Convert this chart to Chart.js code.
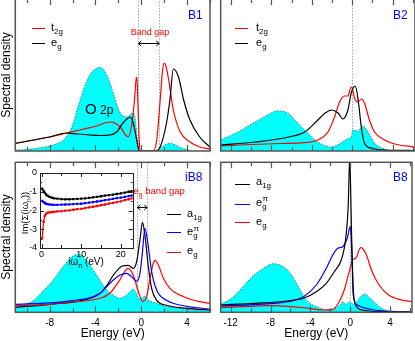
<!DOCTYPE html>
<html><head><meta charset="utf-8">
<script src="https://cdn.jsdelivr.net/npm/chart.js@4/dist/chart.umd.min.js"></script>
<style>
html,body{margin:0;padding:0;background:#fff;}
#wrap{position:relative;width:415px;height:341px;overflow:hidden;font-family:'Liberation Sans',Arial,Helvetica,sans-serif;color:#000;}
canvas{position:absolute;left:0;top:0;}
#cTL,#cTR{top:-1px;}
.t{position:absolute;white-space:nowrap;line-height:1;}
.c{transform:translate(-50%,-50%);}
.l{transform:translateY(-50%);}
.rot{transform:translate(-50%,-50%) rotate(-90deg);}
.sw{position:absolute;height:0;border-top:1.2px solid;}
sub{font-size:0.72em;vertical-align:-0.4em;line-height:0;}
sup{font-size:0.72em;vertical-align:0.55em;line-height:0;}
.blue{color:#0000ff;font-size:12px;}
.red{color:#ff0000;}
</style></head>
<body><div id="wrap">
<canvas id="cTL" width="415" height="341"></canvas>
<canvas id="cTR" width="415" height="341"></canvas>
<canvas id="cBL" width="415" height="341"></canvas>
<canvas id="cBR" width="415" height="341"></canvas>
<canvas id="cIn" width="415" height="341"></canvas>

<div class="t rot" style="left:6px;top:75px;font-size:12px">Spectral density</div>
<div class="t rot" style="left:6px;top:237px;font-size:12px">Spectral density</div>

<div class="sw" style="left:32px;top:27.5px;width:13px;border-color:#f00"></div>
<div class="t l" style="left:51px;top:26.5px;font-size:11px">t<sub>2g</sub></div>
<div class="sw" style="left:32px;top:43px;width:13px;border-color:#000"></div>
<div class="t l" style="left:51px;top:41.5px;font-size:11px">e<sub>g</sub></div>
<div class="t l blue" style="left:188px;top:15px">B1</div>
<div class="t c red" style="left:150px;top:31.5px;font-size:9px">Band gap</div>
<div class="t l" style="left:85px;top:107.5px;font-size:15px">O<span style="font-size:12px"> 2p</span></div>

<div class="sw" style="left:235px;top:27.5px;width:13px;border-color:#f00"></div>
<div class="t l" style="left:256px;top:26.5px;font-size:11px">t<sub>2g</sub></div>
<div class="sw" style="left:235px;top:43px;width:13px;border-color:#000"></div>
<div class="t l" style="left:256px;top:41.5px;font-size:11px">e<sub>g</sub></div>
<div class="t l blue" style="left:393px;top:15px">B2</div>

<div class="sw" style="left:167px;top:214px;width:14px;border-color:#000"></div>
<div class="t l" style="left:187px;top:213px;font-size:11px">a<sub>1g</sub></div>
<div class="sw" style="left:167px;top:232px;width:14px;border-color:#00f"></div>
<div class="t l" style="left:187px;top:231px;font-size:11px">e<sub>g</sub><sup style="margin-left:-0.5em">π</sup></div>
<div class="sw" style="left:167px;top:251.5px;width:14px;border-color:#f00"></div>
<div class="t l" style="left:187px;top:250px;font-size:11px">e<sub>g</sub></div>
<div class="t l blue" style="left:185px;top:177px">iB8</div>
<div class="t l red" style="left:133.5px;top:191px;font-size:9.5px">e<sub>g</sub> band gap</div>

<div class="sw" style="left:235px;top:183.5px;width:15px;border-color:#000"></div>
<div class="t l" style="left:256px;top:181px;font-size:11px">a<sub>1g</sub></div>
<div class="sw" style="left:235px;top:204px;width:15px;border-color:#00f"></div>
<div class="t l" style="left:256px;top:201.5px;font-size:11px">e<sub>g</sub><sup style="margin-left:-0.5em">π</sup></div>
<div class="sw" style="left:235px;top:222px;width:15px;border-color:#f00"></div>
<div class="t l" style="left:256px;top:220.5px;font-size:11px">e<sub>g</sub></div>
<div class="t l blue" style="left:393px;top:177px">B8</div>

<div class="t rot" style="left:25px;top:212.5px;font-size:9.5px">Im(Σ(iω<sub>n</sub>))</div>
<div class="t c" style="left:86px;top:262px;font-size:10px">iω<sub>n</sub> (eV)</div>
</div>
<script>
// ---------- data (energy in eV, spectral density in arbitrary units) ----------
const energyLabels = [-12, -8, -4, 0, 4];
const insetXLabels = [0, 10, 20];
const insetYLabels = [0, -1, -2, -3, -4];

// B1
const b1_o2p = [[-11,0.01],[-10,0.015],[-9,0.03],[-8,0.05],[-7.3,0.077],[-7,0.09],[-6.5,0.15],[-6,0.26],[-5.5,0.45],[-5,0.63],[-4.5,0.76],[-4,0.82],[-3.6,0.835],[-3.2,0.80],[-2.8,0.70],[-2.4,0.56],[-2,0.42],[-1.6,0.35],[-1.2,0.34],[-0.9,0.37],[-0.7,0.38],[-0.5,0.30],[-0.35,0.12],[-0.2,0],[1.3,0],[1.7,0.03],[2.2,0.07],[2.6,0.075],[3,0.06],[3.5,0.03],[4,0.015],[4.5,0],[6,0]];
const b1_t2g = [[-11,0.077],[-8,0.14],[-6.5,0.18],[-5,0.22],[-3.9,0.25],[-2.75,0.29],[-2.3,0.28],[-1.7,0.22],[-1.3,0.15],[-1.1,0.145],[-0.85,0.25],[-0.6,0.5],[-0.45,0.72],[-0.38,0.74],[-0.3,0.5],[-0.2,0.15],[-0.1,0],[1.05,0],[1.35,0.11],[1.65,0.51],[1.85,0.80],[2.0,0.88],[2.15,0.85],[2.35,0.74],[2.8,0.41],[3.4,0.19],[4.25,0.09],[5.1,0.04],[6,0.02]];
const b1_eg = [[-11,0.077],[-8,0.14],[-6.5,0.18],[-5.6,0.17],[-4.5,0.16],[-3.6,0.155],[-2.75,0.16],[-2.15,0.19],[-1.6,0.28],[-1.15,0.33],[-1.0,0.34],[-0.7,0.28],[-0.4,0.11],[-0.17,0],[1.2,0],[1.65,0.04],[2.2,0.28],[2.5,0.51],[2.8,0.82],[3.25,0.74],[3.7,0.51],[4.25,0.31],[5.1,0.14],[6,0.04]];

// B2
const b2_o2p = [[-13,0.11],[-11.3,0.19],[-9.6,0.29],[-8,0.38],[-7.5,0.40],[-6.3,0.375],[-5.4,0.28],[-4.4,0.18],[-3.4,0.09],[-2.1,0.04],[-1.1,0.08],[-0.5,0.12],[-0.1,0.14],[0.05,0.21],[0.55,0.20],[1.05,0.25],[1.55,0.19],[2.2,0.08],[2.9,0.03],[3.8,0.005],[4.5,0],[6.2,0]];
const b2_t2g = [[-13,0.05],[-10,0.065],[-7,0.075],[-4.7,0.083],[-3.4,0.11],[-2.4,0.19],[-1.75,0.34],[-1.25,0.49],[-0.8,0.55],[-0.45,0.55],[-0.1,0.64],[0.3,0.51],[0.55,0.49],[0.9,0.52],[1.2,0.48],[1.7,0.31],[2.2,0.19],[3.2,0.11],[4.2,0.07],[6.2,0.04]];
const b2_eg = [[-13,0.06],[-9.6,0.09],[-6.3,0.14],[-4.7,0.19],[-3.4,0.31],[-2.7,0.377],[-2.07,0.41],[-1.4,0.38],[-0.92,0.32],[-0.43,0.41],[-0.1,0.58],[0.3,0.65],[0.62,0.48],[0.89,0.24],[1.2,0.08],[1.9,0.027],[3.2,0.01],[6.2,0.005]];

// B8 (with inset)
const ib8_o2p = [[-11,0.05],[-9.5,0.11],[-8.6,0.21],[-7.7,0.32],[-6.8,0.46],[-6.1,0.55],[-5.5,0.58],[-4.8,0.52],[-3.9,0.37],[-3.0,0.22],[-2.3,0.16],[-1.9,0.14],[-1.3,0.17],[-0.7,0.23],[-0.3,0.16],[-0.1,0.13],[0.3,0.16],[0.6,0.12],[1.05,0.10],[2.2,0.06],[4,0.03],[6,0.02]];
const ib8_a1g = [[-11,0.05],[-8,0.08],[-5.1,0.12],[-3.6,0.19],[-3.0,0.27],[-2.45,0.37],[-1.7,0.46],[-1.15,0.47],[-0.7,0.44],[-0.4,0.51],[-0.1,0.74],[0.1,0.90],[0.32,0.77],[0.6,0.47],[0.9,0.24],[1.35,0.12],[2.2,0.07],[4,0.04],[6,0.023]];
const ib8_egpi = [[-11,0.08],[-8,0.095],[-6.5,0.11],[-3.6,0.19],[-2.75,0.29],[-1.9,0.37],[-1.3,0.39],[-0.7,0.34],[-0.4,0.31],[-0.1,0.40],[0.1,0.60],[0.32,0.84],[0.55,0.71],[0.9,0.41],[1.35,0.22],[2.2,0.12],[4,0.06],[6,0.033]];
const ib8_eg = [[-11,0.065],[-8,0.08],[-6.5,0.10],[-3.6,0.14],[-2.75,0.19],[-1.9,0.32],[-1.15,0.44],[-0.7,0.37],[-0.26,0.21],[0.12,0.11],[0.47,0.16],[0.76,0.34],[1.05,0.49],[1.2,0.52],[1.5,0.47],[1.93,0.34],[2.5,0.24],[3.7,0.156],[5.1,0.106],[6,0.09]];

// B8
const b8_o2p = [[-13,0.08],[-11.9,0.14],[-10.9,0.24],[-10,0.34],[-9,0.42],[-8,0.48],[-7.8,0.486],[-7,0.47],[-6,0.39],[-5,0.22],[-4.4,0.12],[-3.4,0.057],[-2.1,0.023],[-1.1,0.066],[-0.75,0.106],[-0.45,0.08],[-0.1,0.10],[0.4,0.08],[0.9,0.14],[1.45,0.183],[2.0,0.14],[2.9,0.057],[3.8,0.013],[4.8,0],[6.2,0]];
const b8_a1g = [[-13,0.073],[-9.6,0.09],[-6.3,0.113],[-4.7,0.14],[-3.4,0.206],[-2.4,0.29],[-1.6,0.406],[-0.9,0.523],[-0.45,0.74],[-0.2,1.07],[-0.05,1.55],[0.13,0.806],[0.3,0.24],[0.55,0.073],[1.2,0.023],[3.2,0.006],[6.2,0.003]];
const b8_egpi = [[-13,0.063],[-9.6,0.077],[-6.3,0.106],[-4.7,0.156],[-3.4,0.273],[-2.4,0.44],[-1.75,0.573],[-1.25,0.64],[-0.75,0.656],[-0.3,0.74],[0.0,0.856],[0.16,0.606],[0.3,0.173],[0.7,0.073],[1.9,0.033],[3.5,0.013],[6.2,0.007]];
const b8_eg = [[-13,0.046],[-10,0.06],[-8,0.066],[-6.3,0.06],[-4.7,0.046],[-2.7,0.023],[-1.75,0.03],[-1.1,0.106],[-0.6,0.223],[-0.1,0.406],[0.25,0.523],[0.55,0.54],[1.05,0.646],[1.55,0.59],[2.2,0.406],[2.9,0.273],[3.85,0.173],[5.15,0.123],[6.2,0.106]];

// Inset: Im Sigma(i omega_n)
const sigmaFreq = [0.16,0.5,0.8,1.1,1.5,2,2.6,3.2,4,5,6,7,8,9,10,11,12,13,14,15,16,17,18,19,20,21,22,22.8];
const sigmaA1g  = [-0.84,-0.95,-1.06,-1.14,-1.21,-1.27,-1.32,-1.35,-1.37,-1.39,-1.40,-1.40,-1.39,-1.38,-1.37,-1.35,-1.33,-1.30,-1.27,-1.24,-1.21,-1.18,-1.15,-1.12,-1.09,-1.05,-1.00,-0.97];
const sigmaEgpi = [-1.49,-1.55,-1.60,-1.63,-1.66,-1.68,-1.69,-1.70,-1.70,-1.69,-1.68,-1.67,-1.66,-1.65,-1.64,-1.61,-1.58,-1.55,-1.52,-1.49,-1.45,-1.42,-1.38,-1.34,-1.31,-1.27,-1.23,-1.20];
const sigmaEg   = [-3.48,-2.60,-2.28,-2.18,-2.12,-2.10,-2.08,-2.07,-2.05,-2.03,-2.01,-1.99,-1.96,-1.93,-1.91,-1.87,-1.83,-1.80,-1.76,-1.72,-1.68,-1.63,-1.59,-1.55,-1.51,-1.45,-1.40,-1.35];

// gap markers (eV)
const gapB1 = [-0.26, 1.57];
const gapB8i = [-0.35, 0.52];

// ---------- drawing ----------
const F = "'Liberation Sans', Arial, Helvetica, sans-serif";
Chart.defaults.font.family = F;
Chart.defaults.color = '#000';

function P(a){ return a.map(p => ({x:p[0], y:p[1]})); }
function curve(a, color, order){ return {data:P(a), borderColor:color, backgroundColor:color, borderWidth:1.2, pointRadius:0, fill:false, cubicInterpolationMode:'monotone', order:order}; }
function band(a){ return {data:P(a), borderColor:'#0b6e6e', borderWidth:0.8, borderDash:[1.5,1.5], backgroundColor:'#00ffff', fill:'origin', pointRadius:0, cubicInterpolationMode:'monotone', order:10}; }

const panelDeco = {
  id:'panelDeco',
  beforeDatasetsDraw(chart, args, o){
    const {ctx, chartArea:a, scales:{x}} = chart;
    ctx.save();
    ctx.strokeStyle = '#a8a8a8'; ctx.lineWidth = 1; ctx.setLineDash([1.5,1.5]);
    (o.vlines || []).forEach(v => {
      const px = Math.round(x.getPixelForValue(v)) + 0.5;
      ctx.beginPath(); ctx.moveTo(px, a.top); ctx.lineTo(px, a.bottom); ctx.stroke();
    });
    ctx.restore();
  },
  afterDatasetsDraw(chart, args, o){
    const {ctx, chartArea:a, scales:{x, y}} = chart;
    ctx.save();
    if (o.arrow) {
      const x1 = x.getPixelForValue(o.arrow.from), x2 = x.getPixelForValue(o.arrow.to), yy = Math.round(y.getPixelForValue(o.arrow.y)) + 0.5;
      ctx.strokeStyle = '#000'; ctx.lineWidth = 1;
      ctx.beginPath(); ctx.moveTo(x1, yy); ctx.lineTo(x2, yy);
      ctx.moveTo(x1 + 3, yy - 2.5); ctx.lineTo(x1, yy); ctx.lineTo(x1 + 3, yy + 2.5);
      ctx.moveTo(x2 - 3, yy - 2.5); ctx.lineTo(x2, yy); ctx.lineTo(x2 - 3, yy + 2.5);
      ctx.stroke();
    }
    ctx.strokeStyle = '#555'; ctx.lineWidth = 1.5;
    ctx.strokeRect(a.left, a.top, a.right - a.left, a.bottom - a.top);
    ctx.lineWidth = 1.2;
    ctx.beginPath();
    for (let v = Math.ceil(x.min / 2) * 2; v <= x.max + 1e-9; v += 2) {
      const px = Math.round(x.getPixelForValue(v)) + 0.5;
      const len = (v % 4 === 0) ? 6 : 4;
      ctx.moveTo(px, a.bottom); ctx.lineTo(px, a.bottom - len);
      ctx.moveTo(px, a.top); ctx.lineTo(px, a.top + len);
    }
    ctx.stroke();
    ctx.restore();
  }
};

function panel(id, box, xr, ymax, datasets, deco, showAxis){
  return new Chart(document.getElementById(id), {
    type:'line',
    data:{datasets},
    plugins:[panelDeco],
    options:{
      responsive:false, animation:false, events:[], devicePixelRatio:1,
      layout:{padding:{left:box.l, right:415 - box.r, top:box.t, bottom: showAxis ? 0 : 341 - box.b}},
      plugins:{legend:{display:false}, tooltip:{enabled:false}, panelDeco:deco},
      scales:{
        x:{type:'linear', min:xr[0], max:xr[1], display:showAxis,
          afterFit: s => { if (showAxis) s.height = 341 - box.b; },
          grid:{display:false, drawTicks:false}, border:{display:false},
          ticks:{stepSize:2, includeBounds:false, maxTicksLimit:40, autoSkip:false, maxRotation:0, minRotation:0, padding:5,
            font:{size:10}, color:'#000', callback: v => energyLabels.includes(v) ? String(v) : ''},
          title:{display:true, text:'Energy (eV)', font:{size:12}, color:'#000', padding:0}},
        y:{type:'linear', min:0, max:ymax, display:false}
      }
    }
  });
}

// top panels: canvas shifted up 1px so the top frame line sits just outside the picture
panel('cTL', {l:15.3, r:210, t:0, b:152}, [-11, 6], 1.52,
  [band(b1_o2p), curve(b1_t2g, '#ff0000', 2), curve(b1_eg, '#000000', 1)],
  {vlines: gapB1, arrow:{from:gapB1[0], to:gapB1[1], y:1.083}}, false);
panel('cTR', {l:220.7, r:415.5, t:0, b:152}, [-13, 6.2], 1.52,
  [band(b2_o2p), curve(b2_t2g, '#ff0000', 2), curve(b2_eg, '#000000', 1)],
  {vlines:[0]}, false);
panel('cBL', {l:15.3, r:210, t:162.3, b:312.3}, [-11, 6], 1.50,
  [band(ib8_o2p), curve(ib8_a1g, '#000000', 3), curve(ib8_eg, '#ff0000', 2), curve(ib8_egpi, '#0000ff', 1)],
  {vlines: gapB8i, arrow:{from:gapB8i[0], to:gapB8i[1], y:1.05}}, true);
panel('cBR', {l:220.7, r:415.5, t:162.3, b:312.3}, [-13, 6.2], 1.50,
  [band(b8_o2p), curve(b8_eg, '#ff0000', 3), curve(b8_egpi, '#0000ff', 2), curve(b8_a1g, '#000000', 1)],
  {vlines:[0]}, true);

// inset
const insetDeco = {
  id:'insetDeco',
  beforeDatasetsDraw(chart){
    const {ctx, chartArea:a} = chart;
    ctx.save(); ctx.fillStyle = '#fff'; ctx.fillRect(a.left, a.top, a.right - a.left, a.bottom - a.top); ctx.restore();
  },
  afterDatasetsDraw(chart){
    const {ctx, chartArea:a, scales:{x, y}} = chart;
    ctx.save();
    ctx.strokeStyle = '#222'; ctx.lineWidth = 1;
    ctx.strokeRect(Math.round(a.left) + 0.5, Math.round(a.top) + 0.5, Math.round(a.right - a.left), Math.round(a.bottom - a.top));
    ctx.beginPath();
    for (let v = 0; v <= x.max; v += 5) {
      const px = Math.round(x.getPixelForValue(v)) + 0.5, len = (v % 10 === 0) ? 4 : 3;
      ctx.moveTo(px, a.bottom); ctx.lineTo(px, a.bottom - len);
      ctx.moveTo(px, a.top); ctx.lineTo(px, a.top + len);
    }
    for (let v = -4; v <= 0; v += 0.5) {
      const py = Math.round(y.getPixelForValue(v)) + 0.5, len = (v % 1 === 0) ? 4 : 2;
      ctx.moveTo(a.left, py); ctx.lineTo(a.left + len, py);
      ctx.moveTo(a.right, py); ctx.lineTo(a.right - len, py);
    }
    ctx.stroke();
    ctx.restore();
  }
};
function sig(vals, color){
  return {data: sigmaFreq.map((f, i) => ({x:f, y:vals[i]})), borderColor:color, backgroundColor:color,
    borderWidth:1.3, pointStyle:'rect', pointRadius:1.6, pointBorderWidth:0, pointBackgroundColor:color, tension:0, fill:false};
}
new Chart(document.getElementById('cIn'), {
  type:'line',
  data:{datasets:[sig(sigmaA1g, '#000000'), sig(sigmaEgpi, '#0000ff'), sig(sigmaEg, '#ff0000')]},
  plugins:[insetDeco],
  options:{
    responsive:false, animation:false, events:[], devicePixelRatio:1,
    layout:{padding:{left:30, right:282.3, top:173, bottom:78}},
    plugins:{legend:{display:false}, tooltip:{enabled:false}},
    scales:{
      x:{type:'linear', min:-0.4, max:23, afterFit: s => { s.height = 15; },
        grid:{display:false, drawTicks:false}, border:{display:false},
        ticks:{stepSize:5, includeBounds:false, autoSkip:false, maxRotation:0, minRotation:0, padding:1, font:{size:9}, color:'#000',
          callback: v => insetXLabels.includes(v) ? String(v) : ''}},
      y:{type:'linear', min:-4, max:0, afterFit: s => { s.width = 10; },
        grid:{display:false, drawTicks:false}, border:{display:false},
        ticks:{stepSize:1, autoSkip:false, padding:3, font:{size:9}, color:'#000',
          callback: v => insetYLabels.includes(v) ? String(v) : ''}}
    }
  }
});
</script>
</body></html>
